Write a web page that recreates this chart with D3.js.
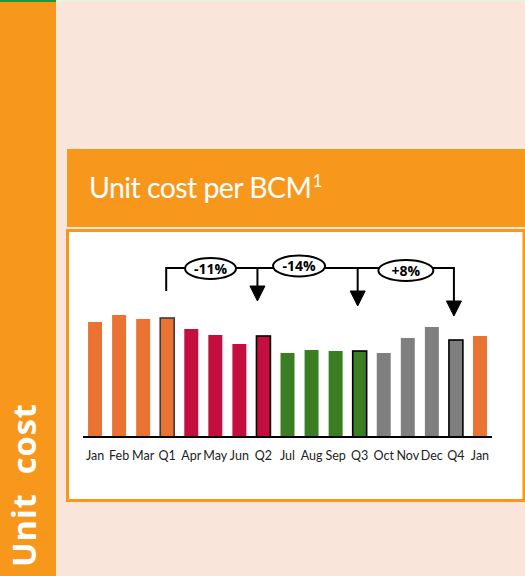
<!DOCTYPE html>
<html>
<head>
<meta charset="utf-8">
<script src="https://cdn.jsdelivr.net/npm/d3@7"></script>
<style>
  body { margin: 0; background: #fae5da; }
  svg { display: block; }
</style>
</head>
<body>
<div id="chart"></div>
<script>
// period labels along the axis
const periods = ["Jan", "Feb", "Mar", "Q1", "Apr", "May", "Jun", "Q2", "Jul", "Aug", "Sep", "Q3", "Oct", "Nov", "Dec", "Q4", "Jan"];
// unit cost per BCM (no axis shown)
const unitCost = [11.5, 12.2, 11.8, 11.9, 10.8, 10.2, 9.3, 10.1, 8.4, 8.7, 8.6, 8.6, 8.4, 9.9, 11.0, 9.7, 10.1];
// which quarter each bar belongs to
const quarterOf = ["Q1", "Q1", "Q1", "Q1", "Q2", "Q2", "Q2", "Q2", "Q3", "Q3", "Q3", "Q3", "Q4", "Q4", "Q4", "Q4", "Next"];
// quarter-on-quarter changes
const changeFrom = [3, 7, 11];
const changeTo = [7, 11, 15];
const changeLabels = ["-11%", "-14%", "+8%"];

const W = 525, H = 576;
const color = {Q1: "#ea7334", Q2: "#c40e3f", Q3: "#3b7d23", Q4: "#7f7f7f", Next: "#ea7334"};

const svg = d3.select("#chart").append("svg")
    .attr("width", W)
    .attr("height", H)
    .style("font-family", "Lato, 'Open Sans', sans-serif");

// page background + side strip
svg.append("rect").attr("width", W).attr("height", H).attr("fill", "#fae5da");
svg.append("rect").attr("x", 56).attr("width", W - 56).attr("height", 2).attr("fill", "#ebf3df");
svg.append("rect").attr("width", 56).attr("height", H).attr("fill", "#f7981d");
svg.append("rect").attr("width", 56).attr("height", 2).attr("fill", "#1f9a3a");

svg.append("text")
    .attr("transform", "translate(36,567) rotate(-90)")
    .attr("fill", "white")
    .attr("font-family", "'Open Sans', sans-serif")
    .attr("font-weight", "bold")
    .attr("font-size", 32.5)
    .attr("letter-spacing", 1)
    .style("white-space", "pre")
    .text("Unit  cost");

// title bar
svg.append("rect")
    .attr("x", 67).attr("y", 149)
    .attr("width", W - 67).attr("height", 78)
    .attr("fill", "#f7981d");

const title = svg.append("text")
    .attr("x", 89).attr("y", 197.5)
    .attr("fill", "white")
    .attr("font-size", 28.5);
title.append("tspan").attr("textLength", 223).attr("lengthAdjust", "spacing").text("Unit cost per BCM");
title.append("tspan").attr("font-size", 17).attr("dx", 1).attr("dy", -11).text("1");

// chart box
svg.append("rect")
    .attr("x", 67.5).attr("y", 230.5)
    .attr("width", W - 67.5 + 2).attr("height", 270)
    .attr("fill", "white")
    .attr("stroke", "#f7981d")
    .attr("stroke-width", 3);
svg.append("rect")
    .attr("x", 522.5).attr("y", 230).attr("width", 3).attr("height", 272)
    .attr("fill", "#f7981d");

// scales
const x = d3.scaleBand()
    .domain(d3.range(periods.length))
    .range([83, 492])
    .paddingInner(0.42)
    .paddingOuter(0.21);

const y = d3.scaleLinear()
    .domain([0, 13])
    .range([437, 307]);

const isQuarter = d => /^Q/.test(periods[d]);

// bars
svg.append("g")
    .selectAll("rect")
    .data(d3.range(periods.length))
    .join("rect")
    .attr("x", i => x(i))
    .attr("y", i => y(unitCost[i]))
    .attr("width", x.bandwidth())
    .attr("height", i => y(0) - y(unitCost[i]))
    .attr("fill", i => color[quarterOf[i]])
    .attr("stroke", i => isQuarter(i) ? (i === 3 ? "#3a3a3a" : "#000") : "none")
    .attr("stroke-width", 1.6);

// baseline + labels
const xAxis = svg.append("g")
    .attr("transform", `translate(0,${y(0)})`)
    .call(d3.axisBottom(x).tickSize(0).tickPadding(14).tickFormat(i => periods[i]));
xAxis.select(".domain").attr("stroke", "#000").attr("stroke-width", 2).attr("d", "M83,0H492");
xAxis.selectAll("text")
    .attr("font-family", "Lato, 'Open Sans', sans-serif")
    .attr("font-size", 12.5)
    .attr("fill", "#222");

// quarter-on-quarter change arrows
const bracketY = 268;
const cx = i => x(i) + x.bandwidth() / 2;
const arrowTipGap = [35, 45, 24];
const bubblePos = [0.45, 0.37, 0.48];
const bubbleRx = [25.5, 26, 27.5];
const bubbleDy = [0.5, -2, 2.5];

const ann = svg.append("g").attr("stroke", "#000").attr("stroke-width", 2).attr("fill", "none");

// start leg on the first quarter
ann.append("path")
    .attr("d", `M${cx(changeFrom[0]) - 1},${bracketY + 23}V${bracketY}H${cx(changeTo[changeTo.length - 1]) - 1}`);

changeTo.forEach((to, k) => {
    const ax = cx(to) - (k === 0 ? 6 : 2);
    const tip = y(unitCost[to]) - arrowTipGap[k];
    ann.append("path").attr("d", `M${ax},${bracketY}V${tip - 14}`);
    ann.append("path")
        .attr("d", `M${ax - 7.5},${tip - 15}L${ax + 7.5},${tip - 15}L${ax},${tip}Z`)
        .attr("fill", "#000").attr("stroke-width", 1);

    const bx = cx(changeFrom[k]) + (cx(to) - cx(changeFrom[k])) * bubblePos[k];
    const by = bracketY + bubbleDy[k];
    ann.append("ellipse")
        .attr("cx", bx).attr("cy", by)
        .attr("rx", bubbleRx[k]).attr("ry", 10.5)
        .attr("fill", "white");
    svg.append("text")
        .attr("x", bx).attr("y", by)
        .attr("dy", "0.36em")
        .attr("text-anchor", "middle")
        .attr("font-family", "'Open Sans', sans-serif")
        .attr("font-weight", "bold")
        .attr("font-size", 14)
        .attr("fill", "#000")
        .text(changeLabels[k]);
});
</script>
</body>
</html>
